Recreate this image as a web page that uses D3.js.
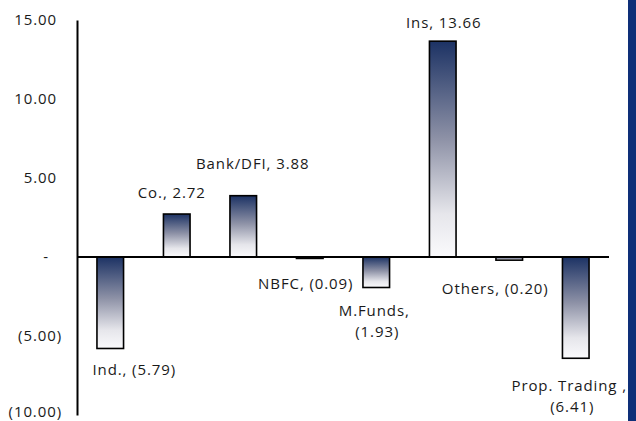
<!DOCTYPE html>
<html>
<head>
<meta charset="utf-8">
<script src="https://cdn.jsdelivr.net/npm/d3@7"></script>
<style>
  html, body { margin: 0; padding: 0; background: #fff; }
  svg { display: block; }
  text { font-family: "Open Sans", Lato, sans-serif; fill: #1a1a1a; }
</style>
</head>
<body>
<svg id="chart" width="636" height="421"></svg>
<script>
// Net flows by participant type
const categories = ["Ind.", "Co.", "Bank/DFI", "NBFC", "M.Funds", "Ins", "Others", "Prop. Trading"];
const values = [-5.79, 2.72, 3.88, -0.09, -1.93, 13.66, -0.20, -6.41];
const tickValues = [15, 10, 5, 0, -5, -10];

// Data-label lines and their offsets (px) from the bar centre / bar end
const labelLines = [
  ["Ind., (5.79)"],
  ["Co., 2.72"],
  ["Bank/DFI, 3.88"],
  ["NBFC, (0.09)"],
  ["M.Funds,", "(1.93)"],
  ["Ins, 13.66"],
  ["Others, (0.20)"],
  ["Prop. Trading ,", "(6.41)"]
];
const labelOffsets = [
  [24, 21], [-5, -22], [9.5, -33], [-4, 25],
  [-2, 22.5], [1, -19], [-14, 28], [-6.5, 27]
];

const fmt = v => {
  if (v === 0) return "-";
  const s = Math.abs(v).toFixed(2);
  return v < 0 ? "(" + s + ")" : s;
};

const svg = d3.select("#chart");
const plotLeft = 77, plotRight = 609, plotTop = 20, plotBottom = 415;
const fontFamily = "'Open Sans', Lato, sans-serif";
const fontSize = 15;
const tracking = 0.9;

const x = d3.scaleBand().domain(categories).range([plotLeft, plotRight]).paddingInner(0.6).paddingOuter(0.3);
const y = d3.scaleLinear().domain([-10, 15]).range([plotBottom, plotTop]);

// Bar fill: navy at the top fading to near white at the bottom
const defs = svg.append("defs");
const grad = defs.append("linearGradient")
  .attr("id", "barFill").attr("x1", 0).attr("y1", 0).attr("x2", 0).attr("y2", 1);
[[0, "#1c3264"], [0.45, "#8d91a6"], [0.8, "#e6e6eb"], [1, "#fafafc"]].forEach(([o, c]) =>
  grad.append("stop").attr("offset", o).attr("stop-color", c));

// Dark band along the right edge
svg.append("rect").attr("x", 628).attr("y", 0).attr("width", 8).attr("height", 421).attr("fill", "#0e2f78");

// Value axis
const yAxis = d3.axisLeft(y).tickValues(tickValues).tickSize(0).tickFormat(fmt);
const ya = svg.append("g").attr("transform", `translate(${plotLeft},0)`).call(yAxis);
ya.select(".domain").attr("stroke", "#000").attr("stroke-width", 2);
ya.selectAll(".tick text")
  .attr("font-size", fontSize)
  .attr("font-family", fontFamily)
  .attr("letter-spacing", tracking)
  .attr("fill", "#1a1a1a")
  .attr("text-anchor", d => d === 0 ? "middle" : "end")
  .attr("x", d => d === 0 ? -31 : (d < 0 ? -15 : -20))
  // keep the lowest label inside the frame
  .attr("y", d => d === y.domain()[0] ? -3 : 0);

// Bars
svg.append("g").selectAll("rect")
  .data(values)
  .join("rect")
  .attr("x", (d, i) => x(categories[i]))
  .attr("width", x.bandwidth())
  .attr("y", d => y(Math.max(0, d)))
  .attr("height", d => Math.abs(y(d) - y(0)))
  .attr("fill", "url(#barFill)")
  .attr("stroke", "#000")
  .attr("stroke-width", 1.6);

// Zero line
svg.append("line")
  .attr("x1", plotLeft).attr("x2", plotRight)
  .attr("y1", y(0)).attr("y2", y(0))
  .attr("stroke", "#000").attr("stroke-width", 2);

// Data labels
const lg = svg.append("g");
values.forEach((v, i) => {
  const cx = x(categories[i]) + x.bandwidth() / 2 + labelOffsets[i][0];
  const cy = y(v) + labelOffsets[i][1];
  const t = lg.append("text")
    .attr("x", cx).attr("y", cy)
    .attr("text-anchor", "middle")
    .attr("dominant-baseline", "central")
    .attr("font-family", fontFamily)
    .attr("font-size", fontSize)
    .attr("letter-spacing", tracking);
  labelLines[i].forEach((line, k) => {
    t.append("tspan").attr("x", cx + (k === 0 ? 0 : 3)).attr("dy", k === 0 ? 0 : 21).text(line);
  });
});
</script>
</body>
</html>
